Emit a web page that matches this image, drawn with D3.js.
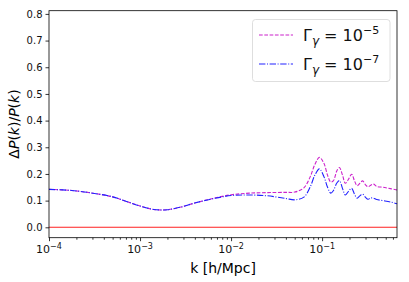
<!DOCTYPE html>
<html>
<head>
<meta charset="utf-8">
<script src="https://cdn.jsdelivr.net/npm/d3@7"></script>
<style>
body { margin: 0; background: white; }
text { font-family: "DejaVu Sans", sans-serif; }
</style>
</head>
<body>
<svg id="chart" width="409" height="282"></svg>
<script>
// log10 of k [h/Mpc]
var logK = [-4, -3.75, -3.5, -3.3, -3.15, -3.0, -2.85, -2.7, -2.55, -2.4, -2.2, -2.0, -1.8, -1.6, -1.4, -1.3,
            -1.2, -1.13, -1.08, -1.03, -0.98, -0.94, -0.905, -0.875, -0.84, -0.81, -0.775, -0.745, -0.71, -0.675,
            -0.645, -0.615, -0.585, -0.555, -0.525, -0.495, -0.465, -0.435, -0.40, -0.33, -0.25, -0.177];
var gamma5 = [0.142, 0.138, 0.127, 0.114, 0.097, 0.080, 0.067, 0.066, 0.076, 0.091, 0.108, 0.122, 0.128, 0.130, 0.131, 0.132,
              0.148, 0.19, 0.235, 0.262, 0.24, 0.195, 0.17, 0.175, 0.21, 0.224, 0.195, 0.165, 0.18, 0.199,
              0.175, 0.156, 0.165, 0.174, 0.160, 0.152, 0.158, 0.162, 0.153, 0.150, 0.145, 0.140];
var gamma7 = [0.142, 0.138, 0.127, 0.114, 0.097, 0.080, 0.067, 0.066, 0.076, 0.091, 0.107, 0.119, 0.121, 0.118, 0.108, 0.103,
              0.113, 0.152, 0.195, 0.219, 0.19, 0.15, 0.128, 0.138, 0.165, 0.175, 0.145, 0.121, 0.135, 0.146,
              0.125, 0.109, 0.118, 0.124, 0.113, 0.105, 0.110, 0.109, 0.104, 0.100, 0.095, 0.088];
var yTicks = [0.0, 0.1, 0.2, 0.3, 0.4, 0.5, 0.6, 0.7, 0.8];
var xTicks = [1e-4, 1e-3, 1e-2, 1e-1];
var xTickExp = ["\u22124", "\u22123", "\u22122", "\u22121"];
var legendExp = ["\u22125", "\u22127"];

var svg = d3.select("#chart");
var pLeft = 49, pRight = 397, pTop = 10.7, pBottom = 237.7;

var x = d3.scaleLog().domain([1e-4, 0.665]).range([pLeft, pRight]);
var y = d3.scaleLinear().domain([-0.039, 0.812]).range([pBottom, pTop]);

svg.append("rect").attr("width", 409).attr("height", 282).style("fill", "white");

// zero line
svg.append("line").attr("x1", pLeft).attr("x2", pRight).attr("y1", y(0)).attr("y2", y(0))
   .style("stroke", "#ff2020").style("stroke-width", 1.1);

var line = d3.line()
   .x(function(d, i){ return x(Math.pow(10, logK[i])); })
   .y(function(d){ return y(d); })
   .curve(d3.curveCatmullRom);

svg.append("path").datum(gamma5).attr("d", line)
   .style("fill", "none").style("stroke", "#cc22cc").style("stroke-width", 1.1)
   .style("stroke-dasharray", "3.7,1.6");
svg.append("path").datum(gamma7).attr("d", line)
   .style("fill", "none").style("stroke", "#2222ff").style("stroke-width", 1.1)
   .style("stroke-dasharray", "6.4,1.6,1,1.6");

// x axis with minor ticks
var minor = [];
for (var e = -4; e < 0; e++) {
  for (var m = 2; m <= 9; m++) {
    var v = m * Math.pow(10, e);
    if (v <= 0.665) minor.push(v);
  }
}
var gx = svg.append("g").attr("transform", "translate(0," + pBottom + ")");
gx.call(d3.axisBottom(x).tickValues(minor).tickSize(2).tickFormat(""));
gx.append("g").call(d3.axisBottom(x).tickValues(xTicks).tickSize(3.5).tickFormat(""));
gx.selectAll(".domain").remove();
gx.selectAll("line").style("stroke", "black").style("stroke-width", 0.8);

xTicks.forEach(function(t, i){
  var tx = svg.append("text").attr("x", x(t)).attr("y", pBottom + 15.5)
     .attr("text-anchor", "middle").style("font-size", "11px").style("fill", "#111");
  tx.append("tspan").text("10");
  tx.append("tspan").attr("dy", -4.5).style("font-size", "8px").text(xTickExp[i]);
});

var gy = svg.append("g").attr("transform", "translate(" + pLeft + ",0)");
gy.call(d3.axisLeft(y).tickValues(yTicks).tickSize(3.5).tickPadding(3).tickFormat(d3.format(".1f")));
gy.selectAll(".domain").remove();
gy.selectAll("line").style("stroke", "black").style("stroke-width", 0.8);
gy.selectAll("text").style("font-size", "10px").style("font-family", "DejaVu Sans").style("fill", "#111");

// spines
svg.append("rect").attr("x", pLeft).attr("y", pTop).attr("width", pRight - pLeft).attr("height", pBottom - pTop)
   .style("fill", "none").style("stroke", "black").style("stroke-width", 0.8);

// axis labels
svg.append("text").attr("x", 223).attr("y", 273).attr("text-anchor", "middle")
   .style("font-size", "14px").text("k [h/Mpc]");
var yl = svg.append("text").attr("transform", "translate(19,124) rotate(-90)").attr("text-anchor", "middle")
   .style("font-size", "14px");
yl.append("tspan").text("\u0394");
yl.append("tspan").style("font-style", "italic").text("P");
yl.append("tspan").text("(");
yl.append("tspan").style("font-style", "italic").text("k");
yl.append("tspan").text(")/");
yl.append("tspan").style("font-style", "italic").text("P");
yl.append("tspan").text("(");
yl.append("tspan").style("font-style", "italic").text("k");
yl.append("tspan").text(")");

// legend
svg.append("rect").attr("x", 252.5).attr("y", 19.5).attr("width", 137.5).attr("height", 62).attr("rx", 3)
   .style("fill", "white").style("fill-opacity", 0.8).style("stroke", "#d6d6d6").style("stroke-width", 0.8);
var legStyles = [["#cc22cc", "3.7,1.6"], ["#2222ff", "6.4,1.6,1,1.6"]];
[0, 1].forEach(function(i){
  var ly = 35 + i * 29;
  svg.append("line").attr("x1", 259).attr("x2", 293).attr("y1", ly).attr("y2", ly)
     .style("stroke", legStyles[i][0]).style("stroke-width", 1.1).style("stroke-dasharray", legStyles[i][1]);
  var t = svg.append("text").attr("x", 303).attr("y", ly + 5.5).style("font-size", "16px").style("fill", "#111");
  t.append("tspan").text("\u0393");
  t.append("tspan").attr("dy", 4).style("font-size", "12px").style("font-style", "italic").text("\u03b3");
  t.append("tspan").attr("dy", -4).text(" = 10");
  t.append("tspan").attr("dy", -6.5).style("font-size", "11px").text(legendExp[i]);
});
</script>
</body>
</html>
